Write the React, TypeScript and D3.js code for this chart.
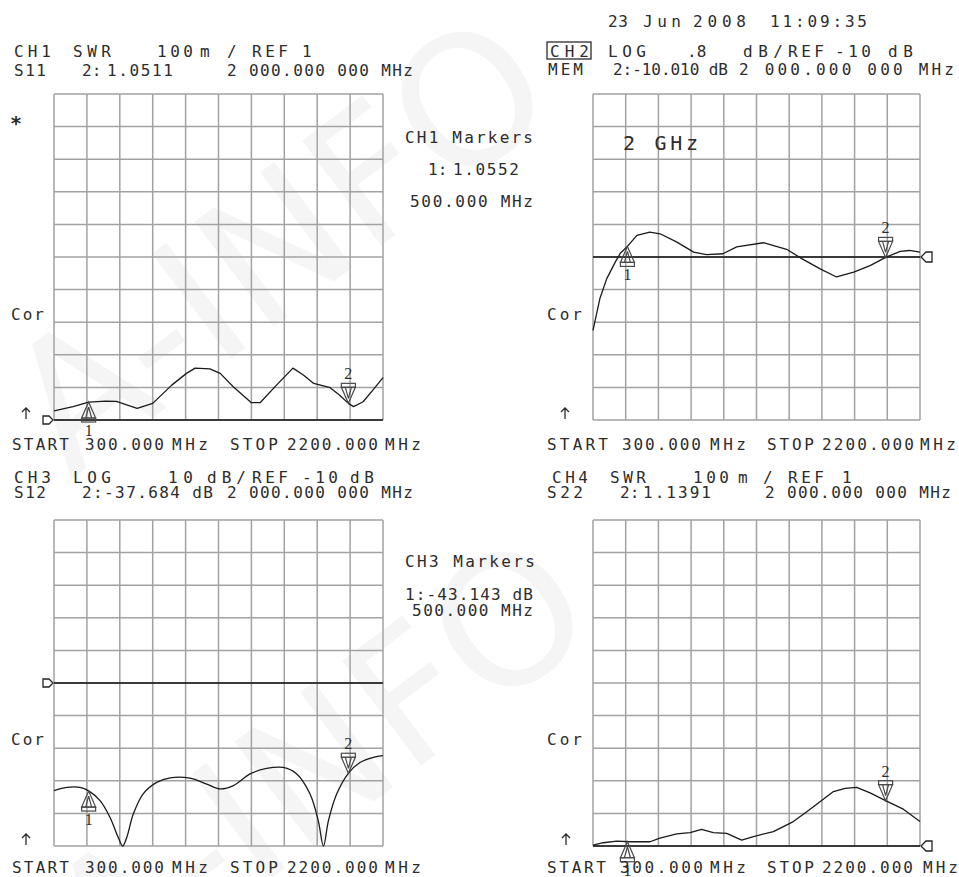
import * as d3 from "d3";

// ── Sweep ────────────────────────────────────────────────────
const START_MHZ = 300;
const STOP_MHZ = 2200;
const MARKER_MHZ = [500, 2000];
const DIVS = 10;

// CH1 — S11 SWR, 100 m/div, REF 1 at bottom line
const ch1Freq = [300, 410, 500, 600, 660, 780, 870, 980, 1065, 1115, 1200, 1260, 1335, 1440, 1490, 1585, 1680, 1740, 1800, 1895, 1950, 2000, 2030, 2085, 2145, 2200];
const ch1Swr = [1.028, 1.041, 1.055, 1.058, 1.057, 1.036, 1.051, 1.107, 1.143, 1.159, 1.157, 1.143, 1.102, 1.053, 1.053, 1.107, 1.159, 1.138, 1.112, 1.099, 1.076, 1.051, 1.041, 1.056, 1.094, 1.13];
const ch1Markers = [1.0552, 1.0511];

// CH2 — memory trace, LOG .8 dB/div, REF -10 dB at centre
const ch2Freq = [300, 340, 380, 430, 460, 500, 555, 630, 690, 785, 885, 960, 1055, 1135, 1290, 1425, 1505, 1620, 1715, 1815, 1910, 2000, 2085, 2140, 2200];
const ch2Db = [-11.8, -11.02, -10.53, -10.12, -9.9, -9.74, -9.47, -9.39, -9.43, -9.63, -9.88, -9.94, -9.92, -9.75, -9.65, -9.81, -10.02, -10.29, -10.49, -10.37, -10.21, -10.01, -9.86, -9.84, -9.88];
const ch2Markers = [-9.74, -10.01];

// CH3 — S12 LOG 10 dB/div, REF -10 dB at centre
const ch3Freq = [300, 374, 450, 500, 566, 623, 671, 697, 720, 758, 815, 893, 971, 1085, 1182, 1259, 1336, 1432, 1528, 1624, 1702, 1778, 1826, 1856, 1885, 1933, 2000, 2067, 2145, 2200];
const ch3Db = [-43.0, -42.0, -42.0, -43.1, -46.1, -51.2, -57.4, -60, -57.4, -50.2, -44.0, -40.5, -39.1, -39.2, -41.0, -42.5, -41.5, -37.9, -36.2, -35.9, -37.9, -44.0, -52.2, -60, -52.2, -44.0, -37.7, -34.4, -32.8, -32.3];
const ch3Markers = [-43.143, -37.684];

// CH4 — S22 SWR, 100 m/div, REF 1 at bottom line
const ch4Freq = [300, 360, 438, 515, 631, 689, 786, 864, 931, 999, 1077, 1164, 1232, 1348, 1464, 1542, 1619, 1697, 1765, 1832, 1910, 2000, 2103, 2200];
const ch4Swr = [1.003, 1.01, 1.015, 1.013, 1.013, 1.024, 1.037, 1.041, 1.051, 1.041, 1.039, 1.018, 1.029, 1.044, 1.075, 1.105, 1.136, 1.167, 1.177, 1.18, 1.163, 1.139, 1.113, 1.075];
const ch4Markers = [1.013, 1.1391];

// ── Annotation texts ─────────────────────────────────────────
const TIMESTAMP = ["23", "Jun", "2008", "11:09:35"];
const CH1_TITLE = ["CH1", "SWR", "100", "m", "/", "REF", "1"];
const CH1_READ = ["S11", "2:", "1.0511", "2 000.000 000 MHz"];
const CH2_TITLE = ["CH2", "LOG", ".8", "dB/", "REF", "-10", "dB"];
const CH2_READ = ["MEM", "2:-10.010 dB", "2 000.000 000 MHz"];
const CH3_TITLE = ["CH3", "LOG", "10", "dB/", "REF", "-10", "dB"];
const CH3_READ = ["S12", "2:-37.684 dB", "2 000.000 000 MHz"];
const CH4_TITLE = ["CH4", "SWR", "100", "m", "/", "REF", "1"];
const CH4_READ = ["S22", "2:", "1.1391", "2 000.000 000 MHz"];
const SWEEP = ["START", "300.000", "MHz", "STOP", "2200.000", "MHz"];
const CH1_SIDE = [["CH1 Markers"], ["1:", "1.0552"], ["500.000 MHz"]];
const CH3_SIDE = [["CH3 Markers"], ["1:-43.143 dB"], ["500.000 MHz"]];
const CH2_NOTE = "2 GHz";
const WATERMARK = "A-INFO";

// ── Layout ───────────────────────────────────────────────────
const W = 959;
const H = 877;
const FONT = "'DejaVu Sans Mono', 'Liberation Mono', monospace";
const INK = "#2c2c2c";
const GRID = "#a2a2a2";

type Panel = {
  x0: number; x1: number; y0: number; y1: number;
  domain: [number, number];
  ref: number;
  refSide: "left" | "right";
  freq: number[];
  vals: number[];
  markers: number[];
  smooth?: boolean;
  arrowX: number;
};

const panels: Panel[] = [
  { x0: 54, x1: 383, y0: 94, y1: 420, domain: [1, 2], ref: 1, refSide: "left", freq: ch1Freq, vals: ch1Swr, markers: ch1Markers, arrowX: 26 },
  { x0: 593, x1: 920, y0: 94, y1: 420, domain: [-14, -6], ref: -10, refSide: "right", freq: ch2Freq, vals: ch2Db, markers: ch2Markers, arrowX: 565 },
  { x0: 54, x1: 383, y0: 520, y1: 846, domain: [-60, 40], ref: -10, refSide: "left", freq: ch3Freq, vals: ch3Db, markers: ch3Markers, smooth: true, arrowX: 26 },
  { x0: 593, x1: 920, y0: 520, y1: 846, domain: [1, 2], ref: 1, refSide: "right", freq: ch4Freq, vals: ch4Swr, markers: ch4Markers, arrowX: 566 },
];

type Seg = [string, number, number?];

function zip(texts: string[], xs: [number, number?][]): Seg[] {
  return texts.map((t, i) => [t, xs[i][0], xs[i][1]]);
}

function Row({ y, segs }: { y: number; segs: Seg[] }) {
  return (
    <>
      {segs.map(([t, a, b], i) =>
        b !== undefined && t.length > 1 ? (
          <text key={i} x={a} y={y} textLength={b - a + 1} lengthAdjust="spacing">{t}</text>
        ) : (
          <text key={i} x={a} y={y}>{t}</text>
        )
      )}
    </>
  );
}

function Marker({ x, y, n, up }: { x: number; y: number; n: number; up: boolean }) {
  const s = up ? 1 : -1;
  const hw = 7;
  const th = 16;
  return (
    <g stroke="#4a4a4a" strokeWidth={1.2} fill="none">
      <path d={`M${x},${y} L${x - hw},${y + s * th} L${x + hw},${y + s * th} Z`} />
      <path d={`M${x},${y + s * 5} L${x - 3},${y + s * th} M${x},${y + s * 5} L${x + 3},${y + s * th}`} />
      <rect x={x - hw} y={up ? y + th : y - th - 4} width={hw * 2} height={4} />
      <text x={x} y={up ? y + 34 : y - 24} textAnchor="middle" stroke="none" fill={INK}>{n}</text>
    </g>
  );
}

function PanelView({ p }: { p: Panel }) {
  const x = d3.scaleLinear().domain([START_MHZ, STOP_MHZ]).range([p.x0, p.x1]);
  const y = d3.scaleLinear().domain(p.domain).range([p.y1, p.y0]).clamp(true);
  const gx = d3.scaleLinear().domain([0, DIVS]).range([p.x0, p.x1]);
  const gy = d3.scaleLinear().domain([0, DIVS]).range([p.y1, p.y0]);
  const line = d3
    .line<number>()
    .x((_, i) => x(p.freq[i]))
    .y((v) => y(v))
    .curve(p.smooth ? d3.curveCatmullRom.alpha(0.5) : d3.curveLinear);
  const ry = y(p.ref);

  const refMark =
    p.refSide === "left"
      ? `M${p.x0 - 11},${ry - 4} L${p.x0 - 5},${ry - 4} L${p.x0 - 1},${ry} L${p.x0 - 5},${ry + 4} L${p.x0 - 11},${ry + 4} Z`
      : `M${p.x1 + 12},${ry - 5} L${p.x1 + 12},${ry + 5} L${p.x1 + 6},${ry + 5} L${p.x1 + 1},${ry} L${p.x1 + 6},${ry - 5} Z`;

  const ay = p.y1 - 8;

  return (
    <g>
      {d3.range(DIVS + 1).map((i) => (
        <line key={`v${i}`} x1={gx(i)} x2={gx(i)} y1={p.y0} y2={p.y1} stroke={GRID} strokeWidth={1.5} />
      ))}
      {d3.range(DIVS + 1).map((i) => (
        <line key={`h${i}`} x1={p.x0} x2={p.x1} y1={gy(i)} y2={gy(i)} stroke={GRID} strokeWidth={1.5} />
      ))}
      <line x1={p.x0} x2={p.x1} y1={ry} y2={ry} stroke="#111" strokeWidth={1.6} />
      <path d={refMark} fill="white" stroke="#222" strokeWidth={1.3} />
      <path d={line(p.vals) ?? ""} fill="none" stroke="#1a1a1a" strokeWidth={1.3} strokeLinejoin="round" />
      {MARKER_MHZ.map((f, i) => (
        <Marker key={i} x={x(f)} y={y(p.markers[i])} n={i + 1} up={i === 0} />
      ))}
      <g stroke={INK} strokeWidth={1.3} fill="none">
        <path d={`M${p.arrowX},${ay - 4} L${p.arrowX},${ay + 7} M${p.arrowX - 4},${ay} L${p.arrowX},${ay - 4} L${p.arrowX + 4},${ay}`} />
      </g>
    </g>
  );
}

export default function App() {
  return (
    <svg
      width={W}
      height={H}
      viewBox={`0 0 ${W} ${H}`}
      style={{ position: "absolute", left: 0, top: 0, background: "white" }}
    >
      <rect width={W} height={H} fill="white" />

      {/* faint watermark */}
      <g fill="#f5f5f5" fontFamily="'DejaVu Sans', sans-serif" fontSize={180}>
        <text transform="translate(70,480) rotate(-37)">{WATERMARK}</text>
        <text transform="translate(110,1000) rotate(-37)">{WATERMARK}</text>
      </g>

      {panels.map((p, i) => (
        <PanelView key={i} p={p} />
      ))}

      <g fontFamily={FONT} fontSize={16} fill={INK}>
        <Row y={27} segs={zip(TIMESTAMP, [[608, 627], [643, 680], [693, 745], [770, 866]])} />

        <Row y={57} segs={zip(CH1_TITLE, [[14, 50], [73, 110], [157, 192], [200], [227], [252, 287], [302]])} />
        <Row y={76} segs={zip(CH1_READ, [[14, 45], [82], [107, 172], [227, 412]])} />

        <rect x={547} y={42} width={44} height={17} fill="none" stroke={INK} strokeWidth={1.3} />
        <Row y={57} segs={zip(CH2_TITLE, [[550, 588], [608, 645], [687], [743, 782], [788, 823], [835, 870], [888, 912]])} />
        <Row y={75} segs={zip(CH2_READ, [[548, 582], [613, 727], [739, 953]])} />

        <Row y={450} segs={zip(SWEEP, [[12, 68], [85, 163], [172, 207], [230, 277], [287, 377], [385, 420]])} />
        <Row y={450} segs={zip(SWEEP, [[547, 607], [622, 700], [710, 745], [767, 813], [822, 913], [920, 955]])} />

        <Row y={483} segs={zip(CH3_TITLE, [[14, 50], [73, 110], [168, 192], [207, 245], [252, 287], [302, 337], [350, 373]])} />
        <Row y={498} segs={zip(CH3_READ, [[14, 45], [82, 212], [227, 412]])} />

        <Row y={483} segs={zip(CH4_TITLE, [[552, 587], [610, 645], [693, 728], [738], [763], [788, 823], [842]])} />
        <Row y={498} segs={zip(CH4_READ, [[547, 582], [620], [643, 710], [765, 950]])} />

        <Row y={873} segs={zip(SWEEP, [[12, 68], [85, 163], [172, 207], [230, 277], [287, 377], [385, 420]])} />
        <Row y={873} segs={zip(SWEEP, [[547, 605], [620, 702], [710, 745], [767, 813], [822, 912], [923, 957]])} />

        <Row y={143} segs={zip(CH1_SIDE[0], [[405, 532]])} />
        <Row y={175} segs={zip(CH1_SIDE[1], [[428], [453, 518]])} />
        <Row y={207} segs={zip(CH1_SIDE[2], [[410, 532]])} />

        <Row y={567} segs={zip(CH3_SIDE[0], [[405, 534]])} />
        <Row y={600} segs={zip(CH3_SIDE[1], [[405, 532]])} />
        <Row y={616} segs={zip(CH3_SIDE[2], [[412, 532]])} />

        {[320, 745].map((cy) => (
          <g key={cy}>
            <text x={11} y={cy} textLength={33} lengthAdjust="spacing">Cor</text>
            <text x={547} y={cy} textLength={35} lengthAdjust="spacing">Cor</text>
          </g>
        ))}

        <text x={10} y={130} fontSize={20} fontWeight="bold">*</text>

        <text x={623} y={150} fontSize={20} textLength={75} lengthAdjust="spacing">{CH2_NOTE}</text>
      </g>
    </svg>
  );
}
